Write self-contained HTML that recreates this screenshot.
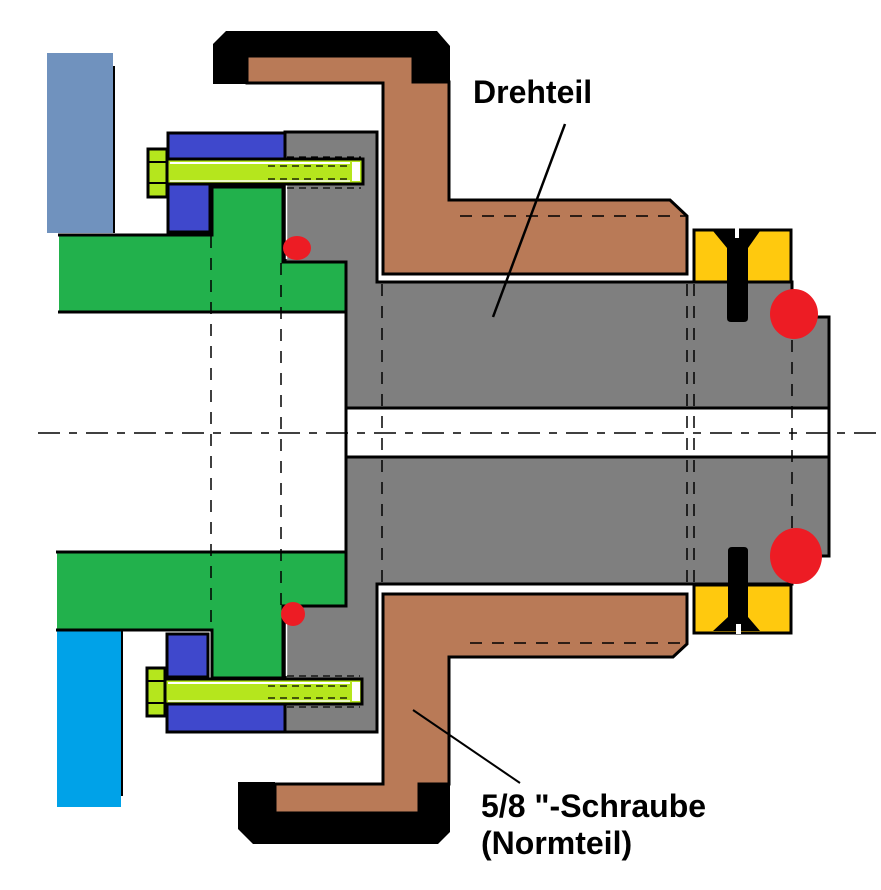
<!DOCTYPE html>
<html>
<head>
<meta charset="utf-8">
<style>
html,body{margin:0;padding:0;background:#fff;}
svg{display:block;}
text{font-family:"Liberation Sans",Arial,sans-serif;font-weight:bold;font-size:32px;fill:#000;}
</style>
</head>
<body>
<svg width="881" height="890" viewBox="0 0 881 890" xmlns="http://www.w3.org/2000/svg">
<rect x="0" y="0" width="881" height="890" fill="#fff"/>

<!-- left blue plates -->
<rect x="47" y="53" width="66" height="180" fill="#7092be"/>
<line x1="114" y1="66" x2="114" y2="233" stroke="#000" stroke-width="2"/>
<rect x="57" y="631" width="64" height="176" fill="#00a2e8"/>
<line x1="122" y1="631" x2="122" y2="796" stroke="#000" stroke-width="2"/>

<!-- gray body (housing + shaft) -->
<polygon points="285,132 377,132 377,282 792,282 792,317 829,317 829,556 792,556 792,584 377,584 377,732 285,732 285,606 346,606 346,262 285,262" fill="#7f7f7f" stroke="#000" stroke-width="3"/>
<!-- bore -->
<rect x="347" y="408" width="482" height="49" fill="#fff"/>
<line x1="346" y1="408" x2="829" y2="408" stroke="#000" stroke-width="3"/>
<line x1="346" y1="457" x2="829" y2="457" stroke="#000" stroke-width="3"/>
<line x1="346" y1="262" x2="346" y2="606" stroke="#000" stroke-width="3"/>
<line x1="829" y1="316" x2="829" y2="557" stroke="#000" stroke-width="3"/>

<!-- upper brown + black cap -->
<polygon points="247,56 413,56 413,82 449,82 449,200 670,200 687,216 687,274 383,274 383,83 247,83" fill="#b97a57" stroke="#000" stroke-width="3"/>
<polygon points="213,44 226,31 437,31 450,46 450,82 413,82 413,56 247,56 247,84 213,84" fill="#000"/>
<!-- lower brown + black cap -->
<polygon points="383,594 687,594 687,644 673,657 449,657 449,784 419,784 419,813 275,813 275,784 383,784" fill="#b97a57" stroke="#000" stroke-width="3"/>
<polygon points="238,782 275,782 275,813 419,813 419,784 450,784 450,832 438,844 253,844 238,829" fill="#000"/>

<!-- green upper -->
<polygon points="59,235 212,235 212,187 283,187 283,262 346,262 346,312 59,312" fill="#22b14c"/>
<polyline points="58,235 212,235 212,187 283,187 283,262 346,262 346,312 58,312" fill="none" stroke="#000" stroke-width="3"/>
<line x1="286.5" y1="160" x2="286.5" y2="259" stroke="#fff" stroke-width="1.5"/>
<!-- green lower -->
<polygon points="57,552 346,552 346,606 283,606 283,678 212,678 212,630 57,630" fill="#22b14c"/>
<polyline points="56,552 346,552 346,606 283,606 283,678 212,678 212,630 56,630" fill="none" stroke="#000" stroke-width="3"/>
<line x1="286.5" y1="609" x2="286.5" y2="676" stroke="#fff" stroke-width="1.5"/>

<!-- blue blocks upper -->
<rect x="168" y="133" width="117" height="26" fill="#3f48cc" stroke="#000" stroke-width="3"/>
<rect x="168" y="184" width="42" height="48" fill="#3f48cc" stroke="#000" stroke-width="3"/>
<!-- blue blocks lower -->
<rect x="167" y="634" width="41" height="43" fill="#3f48cc" stroke="#000" stroke-width="3"/>
<rect x="167" y="704" width="118" height="28" fill="#3f48cc" stroke="#000" stroke-width="3"/>

<!-- upper bolt -->
<rect x="167" y="159" width="196" height="25" fill="#b5e61d" stroke="#000" stroke-width="3"/>
<line x1="170" y1="163" x2="350" y2="163" stroke="#fff" stroke-width="2"/>
<line x1="170" y1="181" x2="350" y2="181" stroke="#fff" stroke-width="1.5"/>
<rect x="352" y="162" width="8" height="19" fill="#fff"/>
<rect x="148" y="149" width="19" height="48" fill="#b5e61d" stroke="#000" stroke-width="3"/>
<line x1="148" y1="162" x2="167" y2="162" stroke="#000" stroke-width="2"/>
<line x1="148" y1="183" x2="167" y2="183" stroke="#000" stroke-width="2"/>
<g stroke="#000" stroke-width="1.2" stroke-dasharray="7,5" fill="none">
<line x1="287" y1="157" x2="361" y2="157"/>
<line x1="287" y1="188" x2="361" y2="188"/>
<line x1="268" y1="166" x2="350" y2="166"/>
<line x1="268" y1="179" x2="350" y2="179"/>
</g>

<!-- lower bolt -->
<rect x="165" y="679" width="197" height="25" fill="#b5e61d" stroke="#000" stroke-width="3"/>
<line x1="168" y1="683" x2="350" y2="683" stroke="#fff" stroke-width="2"/>
<line x1="168" y1="701" x2="350" y2="701" stroke="#fff" stroke-width="1.5"/>
<rect x="352" y="682" width="8" height="19" fill="#fff"/>
<rect x="147" y="668" width="18" height="48" fill="#b5e61d" stroke="#000" stroke-width="3"/>
<line x1="147" y1="681" x2="165" y2="681" stroke="#000" stroke-width="2"/>
<line x1="147" y1="703" x2="165" y2="703" stroke="#000" stroke-width="2"/>
<g stroke="#000" stroke-width="1.2" stroke-dasharray="7,5" fill="none">
<line x1="287" y1="676" x2="360" y2="676"/>
<line x1="287" y1="707" x2="360" y2="707"/>
<line x1="268" y1="686" x2="350" y2="686"/>
<line x1="268" y1="698" x2="350" y2="698"/>
</g>

<!-- yellow blocks -->
<rect x="694" y="230" width="97" height="52" fill="#ffc90e" stroke="#000" stroke-width="3"/>
<rect x="694" y="585" width="97" height="48" fill="#ffc90e" stroke="#000" stroke-width="3"/>
<!-- screws -->
<path d="M713,231 L760,231 L748,248 L748,318 Q748,322 744,322 L731,322 Q727,322 727,318 L727,248 Z" fill="#000"/>
<rect x="735" y="228" width="4" height="10" fill="#fff"/>
<path d="M713,631 L760,631 L748,617 L748,551 Q748,547 744,547 L732,547 Q728,547 728,551 L728,617 Z" fill="#000"/>
<rect x="736" y="624" width="5" height="10" fill="#fff"/>

<!-- hidden (dashed) lines -->
<g stroke="#000" stroke-width="1.5" stroke-dasharray="12,10" fill="none">
<line x1="211" y1="236" x2="211" y2="630"/>
<line x1="281" y1="263" x2="281" y2="606"/>
<line x1="382" y1="284" x2="382" y2="584"/>
<line x1="687" y1="284" x2="687" y2="584"/>
<line x1="694" y1="284" x2="694" y2="584"/>
<line x1="792" y1="318" x2="792" y2="554"/>
<line x1="460" y1="216" x2="687" y2="216"/>
<line x1="470" y1="643" x2="687" y2="643"/>
</g>
<!-- centre line -->
<line x1="38" y1="433" x2="881" y2="433" stroke="#000" stroke-width="1.5" stroke-dasharray="22,9,8,9"/>

<!-- red dots -->
<ellipse cx="794" cy="314" rx="24" ry="25" fill="#ed1c24"/>
<ellipse cx="796" cy="556" rx="26" ry="28" fill="#ed1c24"/>
<ellipse cx="297" cy="248" rx="14" ry="12" fill="#ed1c24"/>
<ellipse cx="293" cy="614" rx="12" ry="12" fill="#ed1c24"/>

<!-- leaders -->
<line x1="565" y1="124" x2="493" y2="317" stroke="#000" stroke-width="2.5"/>
<line x1="413" y1="710" x2="520" y2="783" stroke="#000" stroke-width="2"/>

<!-- labels -->
<text x="473" y="103">Drehteil</text>
<text x="481" y="817">5/8 "-Schraube</text>
<text x="481" y="854">(Normteil)</text>
</svg>
</body>
</html>
